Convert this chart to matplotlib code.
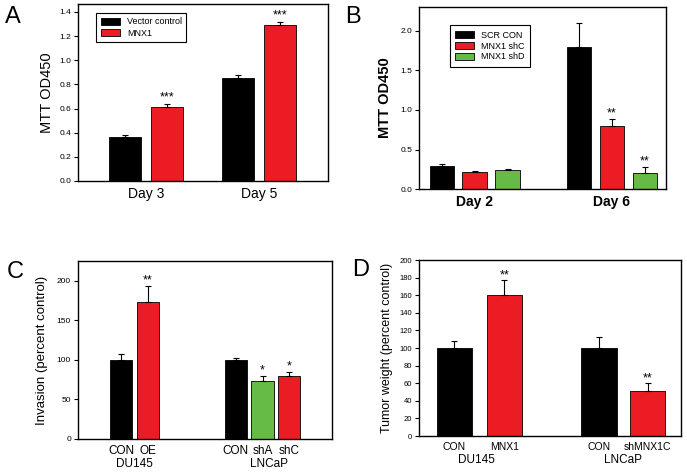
import numpy as np
import matplotlib.pyplot as plt

plt.rcParams['font.family'] = ['Liberation Sans', 'DejaVu Sans']

RED = '#ec1c24'
GREEN = '#66bb46'
BLACK = '#000000'

# panel A data
a_days = ['Day 3', 'Day 5']
a_vector = [0.365, 0.85]
a_vector_err = [0.012, 0.025]
a_mnx1 = [0.615, 1.29]
a_mnx1_err = [0.02, 0.025]

# panel B data
b_days = ['Day 2', 'Day 6']
b_scr = [0.29, 1.80]
b_scr_err = [0.025, 0.30]
b_shc = [0.22, 0.80]
b_shc_err = [0.008, 0.085]
b_shd = [0.24, 0.20]
b_shd_err = [0.008, 0.085]

# panel C data
c_labels = ['CON', 'OE', 'CON', 'shA', 'shC']
c_values = [100, 173, 100, 73, 80]
c_err = [8, 21, 3, 7, 5]
c_stars = ['', '**', '', '*', '*']
c_colors = [BLACK, RED, BLACK, GREEN, RED]

# panel D data
d_labels = ['CON', 'MNX1', 'CON', 'shMNX1C']
d_values = [100, 160, 100, 51]
d_err = [8, 17, 12, 9]
d_stars = ['', '**', '', '**']
d_colors = [BLACK, RED, BLACK, RED]


def up_err(e):
    return [np.zeros(len(e)), e]


def style(ax, fs=6):
    ax.tick_params(axis='y', labelsize=fs, length=3, width=0.8, direction='out', pad=2)
    ax.tick_params(axis='x', length=0, pad=4)
    for s in ax.spines.values():
        s.set_linewidth(1.0)


fig = plt.figure(figsize=(6.87, 4.75), dpi=100)
ekw = dict(lw=0.8, capthick=0.8)

# ---- A ----
ax = fig.add_axes([0.1135, 0.619, 0.364, 0.3726])
x = np.arange(2)
ax.bar(x - 0.186, a_vector, 0.28, color=BLACK, edgecolor='black', lw=0.6,
       yerr=up_err(a_vector_err), capsize=2.5, error_kw=ekw, label='Vector control')
ax.bar(x + 0.186, a_mnx1, 0.28, color=RED, edgecolor='black', lw=0.6,
       yerr=up_err(a_mnx1_err), capsize=2.5, error_kw=ekw, label='MNX1')
for i in range(2):
    ax.text(x[i] + 0.186, a_mnx1[i] + a_mnx1_err[i] + 0.03, '***', ha='center', fontsize=9)
ax.set_xlim(-0.6, 1.61)
ax.set_ylim(0, 1.466)
ax.set_yticks(np.arange(0, 1.41, 0.2))
ax.set_yticklabels(['%.1f' % v for v in np.arange(0, 1.41, 0.2)])
ax.set_xticks(x)
ax.set_xticklabels(a_days, fontsize=10)
ax.set_ylabel('MTT OD450', fontsize=10.5, labelpad=4)
style(ax)
ax.legend(loc='upper left', bbox_to_anchor=(0.055, 0.975), fontsize=6.5, frameon=True, fancybox=False,
          edgecolor='black', handlelength=2.1, handleheight=0.8, borderpad=0.5, labelspacing=0.25,
          framealpha=1).get_frame().set_linewidth(0.8)
fig.text(0.007, 0.988, 'A', fontsize=17, va='top')

# ---- B ----
ax = fig.add_axes([0.610, 0.602, 0.3595, 0.383])
x = np.arange(2)
ax.bar(x - 0.24, b_scr, 0.177, color=BLACK, edgecolor='black', lw=0.6,
       yerr=up_err(b_scr_err), capsize=2.5, error_kw=ekw, label='SCR CON')
ax.bar(x, b_shc, 0.177, color=RED, edgecolor='black', lw=0.6,
       yerr=up_err(b_shc_err), capsize=2.5, error_kw=ekw, label='MNX1 shC')
ax.bar(x + 0.24, b_shd, 0.177, color=GREEN, edgecolor='black', lw=0.6,
       yerr=up_err(b_shd_err), capsize=2.5, error_kw=ekw, label='MNX1 shD')
ax.text(x[1], b_shc[1] + b_shc_err[1] + 0.03, '**', ha='center', fontsize=9)
ax.text(x[1] + 0.24, b_shd[1] + b_shd_err[1] + 0.03, '**', ha='center', fontsize=9)
ax.set_xlim(-0.405, 1.396)
ax.set_ylim(0, 2.3)
ax.set_yticks(np.arange(0, 2.01, 0.5))
ax.set_yticklabels(['%.1f' % v for v in np.arange(0, 2.01, 0.5)])
ax.set_xticks(x)
ax.set_xticklabels(b_days, fontsize=10, fontweight='bold')
ax.set_ylabel('MTT OD450', fontsize=10.5, fontweight='bold', labelpad=6)
style(ax)
ax.legend(loc='upper left', bbox_to_anchor=(0.105, 0.925), fontsize=6.5, frameon=True, fancybox=False,
          edgecolor='black', handlelength=2.1, handleheight=0.8, borderpad=0.6, labelspacing=0.2,
          framealpha=1).get_frame().set_linewidth(0.8)
fig.text(0.502, 0.988, 'B', fontsize=17, va='top')

# ---- C ----
ax = fig.add_axes([0.1135, 0.0758, 0.3697, 0.3747])
xc = np.array([0, 1, 4.3, 5.3, 6.3])
ax.bar(xc, c_values, 0.84, color=c_colors, edgecolor='black', lw=0.6,
       yerr=up_err(c_err), capsize=2.5, error_kw=ekw)
for i in range(len(xc)):
    if c_stars[i]:
        ax.text(xc[i], c_values[i] + c_err[i] + 3, c_stars[i], ha='center', fontsize=9)
ax.set_xlim(-1.62, 7.9)
ax.set_ylim(0, 225)
ax.set_yticks([0, 50, 100, 150, 200])
ax.set_xticks(xc)
ax.set_xticklabels(c_labels, fontsize=8.5)
ax.set_ylabel('Invasion (percent control)', fontsize=9.5, labelpad=6)
style(ax)
ax.text(0.5, -0.105, 'DU145', transform=ax.get_xaxis_transform(), ha='center', va='top', fontsize=8.5)
ax.text(5.55, -0.105, 'LNCaP', transform=ax.get_xaxis_transform(), ha='center', va='top', fontsize=8.5)
fig.text(0.01, 0.451, 'C', fontsize=17, va='top')

# ---- D ----
ax = fig.add_axes([0.610, 0.0821, 0.3814, 0.3705])
xd = np.array([0, 1, 2.9, 3.88])
ax.bar(xd, d_values, 0.71, color=d_colors, edgecolor='black', lw=0.6,
       yerr=up_err(d_err), capsize=2.5, error_kw=ekw)
for i in range(len(xd)):
    if d_stars[i]:
        ax.text(xd[i], d_values[i] + d_err[i] + 2.5, d_stars[i], ha='center', fontsize=9)
ax.set_xlim(-0.71, 4.55)
ax.set_ylim(0, 200)
ax.set_yticks(np.arange(0, 201, 20))
ax.set_xticks(xd)
ax.set_xticklabels(d_labels, fontsize=7.5)
ax.set_ylabel('Tumor weight (percent control)', fontsize=9, labelpad=5)
style(ax, fs=5.5)
ax.text(0.45, -0.1, 'DU145', transform=ax.get_xaxis_transform(), ha='center', va='top', fontsize=8.5)
ax.text(3.39, -0.1, 'LNCaP', transform=ax.get_xaxis_transform(), ha='center', va='top', fontsize=8.5)
fig.text(0.512, 0.455, 'D', fontsize=17, va='top')

plt.savefig('out.png', dpi=100)
